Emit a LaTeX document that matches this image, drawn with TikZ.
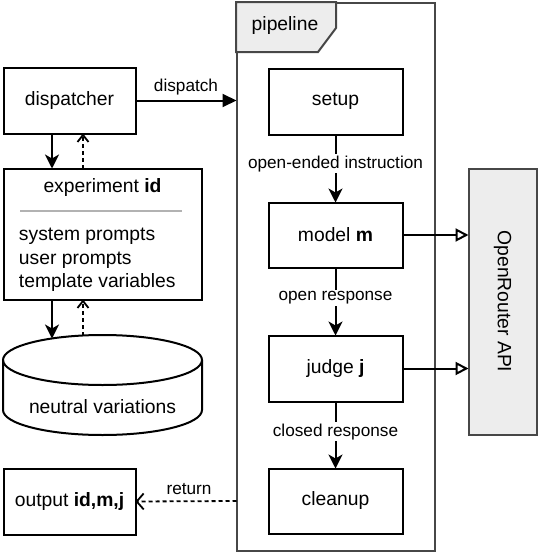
\documentclass[tikz,border=0pt]{standalone}
\usepackage{fontspec}
\setmainfont{Liberation Sans}
\usetikzlibrary{arrows.meta}
\begin{document}
\begin{tikzpicture}[x=1pt,y=-1pt,
  every node/.style={font=\fontsize{19.3}{23.5}\selectfont, inner sep=0pt, outer sep=0pt},
  boxs/.style={draw, line width=2pt, fill=white},
  lbl/.style={font=\fontsize{17.2}{20}\selectfont, fill=white, inner sep=1.5pt},
  flow/.style={line width=2pt, -{Stealth[length=14pt,width=14pt,inset=4pt]}},
  back/.style={line width=1.8pt, dash pattern=on 4pt off 3pt, -{Straight Barb[length=7pt,width=11pt,line width=1.8pt]}},
  api/.style={line width=2pt, -{Triangle[open,length=13pt,width=13pt,line width=2pt]}},
  frame/.style={draw=black!72, line width=2pt}
]
\useasboundingbox (0,0) rectangle (538,554);

% pipeline frame
\node[frame, minimum width=198pt, minimum height=548pt] (pipe) at (335.5,276.5) {};
\draw[frame, fill=black!7] (236,2) -- (336,2) -- (336,28) -- (318,52) -- (236,52) -- cycle;
\node (pipelbl) at (285,26) {pipeline};

% pipeline steps
\node[boxs, minimum width=134pt, minimum height=66pt] (setup) at (335.5,101.5) {setup};
\node[boxs, minimum width=134pt, minimum height=65pt] (model) at (335.5,235) {model \textbf{m}};
\node[boxs, minimum width=134pt, minimum height=66pt] (judge) at (335.5,368.5) {judge \textbf{j}};
\node[boxs, minimum width=134pt, minimum height=65pt] (cleanup) at (335.5,501) {cleanup};

\draw[flow] (setup) -- (model) node[lbl, pos=0.43] {open-ended instruction};
\draw[flow] (model) -- (judge) node[lbl, pos=0.45] {open response};
\draw[flow] (judge) -- (cleanup) node[lbl, pos=0.45] {closed response};

% OpenRouter API
\node[draw=black!72, line width=2pt, fill=black!7, minimum width=68pt, minimum height=266pt] (api) at (502.5,301.5) {\rotatebox{-90}{OpenRouter API}};
\draw[api] (model.east) -- (model.east -| api.west);
\draw[api] (judge.east) -- (judge.east -| api.west);

% left column
\node[boxs, minimum width=132pt, minimum height=66pt] (disp) at (69.5,100.5) {dispatcher};
\node[boxs, minimum width=198pt, minimum height=131pt] (exp) at (102.5,234) {};
\node (exptitle) at (102.5,188) {experiment \textbf{id}};
\draw[black!30, line width=2pt] (20,211) -- (182,211);
\node[anchor=west, align=left] (explist) at (19,260) {system prompts\\user prompts\\template variables};

% cylinder
\draw[line width=2pt, fill=white] (3,360) -- (3,410) arc[start angle=180, end angle=360, x radius=99.5pt, y radius=25pt] -- (202,360);
\draw[line width=2pt] (102.5,360) ellipse[x radius=99.5pt, y radius=25pt];
\node (cyl) at (102.5,407) {neutral variations};
\coordinate (c1) at (52,338.5);
\coordinate (c2) at (83,335.5);

\node[boxs, minimum width=132pt, minimum height=66pt] (out) at (69.5,501.5) {output \textbf{id,m,j}};

% connectors
\draw[line width=2pt, -{Triangle[length=14pt,width=13pt]}] (disp.east) -- (disp.east -| pipe.west) node[lbl, fill=none, midway, above=4pt] {dispatch};
\draw[flow] (disp.south -| c1) -- (exp.north -| c1);
\draw[back] (exp.north -| c2) -- (disp.south -| c2);
\draw[flow] (exp.south -| c1) -- (c1);
\draw[back] (c2) -- (exp.south -| c2);
\draw[line width=1.8pt, dash pattern=on 4pt off 3pt, -{Straight Barb[length=7pt,width=16pt,line width=1.8pt]}] (cleanup.west -| pipe.west) -- (out.east) node[lbl, fill=none, pos=0.47, above=5pt] {return};
\end{tikzpicture}
\end{document}
